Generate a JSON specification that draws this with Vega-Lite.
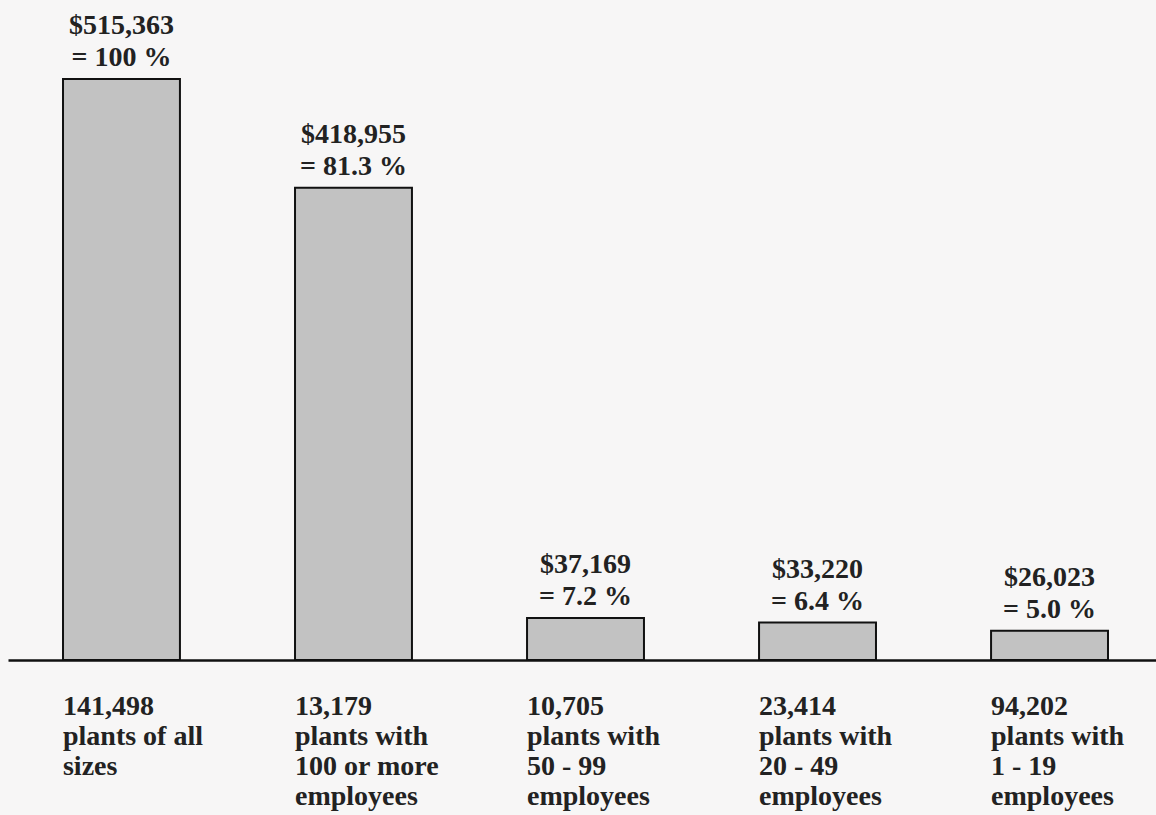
{
  "$schema": "https://vega.github.io/schema/vega-lite/v6.json",
  "width": 1148,
  "height": 660,
  "autosize": {"type": "none"},
  "padding": {"left": 8, "top": 0, "right": 0, "bottom": 155},
  "background": "#f7f6f6",
  "config": {"view": {"stroke": null}},
  "data": {
    "values": [
      {"group": "141,498|plants of all|sizes", "value": 515363, "amount": "$515,363", "pct": "= 100 %"},
      {"group": "13,179|plants with|100 or more|employees", "value": 418955, "amount": "$418,955", "pct": "= 81.3 %"},
      {"group": "10,705|plants with|50 - 99|employees", "value": 37169, "amount": "$37,169", "pct": "= 7.2 %"},
      {"group": "23,414|plants with|20 - 49|employees", "value": 33220, "amount": "$33,220", "pct": "= 6.4 %"},
      {"group": "94,202|plants with|1 - 19|employees", "value": 26023, "amount": "$26,023", "pct": "= 5.0 %"}
    ]
  },
  "encoding": {
    "x": {
      "field": "group",
      "type": "nominal",
      "sort": null,
      "scale": {"paddingInner": 0.496, "paddingOuter": 0.222, "align": 0.534},
      "axis": {
        "title": null,
        "orient": "bottom",
        "domain": true,
        "domainColor": "#111111",
        "domainWidth": 2.5,
        "ticks": false,
        "tickSize": 0,
        "grid": false,
        "labelAngle": 0,
        "labelAlign": "left",
        "labelBaseline": "alphabetic",
        "labelOffset": -58.5,
        "labelPadding": 54,
        "labelFont": "Liberation Serif",
        "labelFontWeight": "bold",
        "labelFontSize": 28,
        "labelLineHeight": 30,
        "labelColor": "#222222",
        "labelLimit": 0,
        "labelOverlap": false,
        "labelFlush": false,
        "labelBound": false,
        "labelExpr": "split(datum.value, '|')"
      }
    },
    "y": {
      "field": "value",
      "type": "quantitative",
      "scale": {"domain": [0, 585430], "nice": false, "zero": true},
      "axis": null
    }
  },
  "layer": [
    {
      "mark": {"type": "bar", "fill": "#c2c2c2", "stroke": "#111111", "strokeWidth": 2}
    },
    {
      "mark": {"type": "text", "font": "Liberation Serif", "fontWeight": "bold", "fontSize": 28, "baseline": "alphabetic", "align": "center", "dy": -45, "color": "#222222"},
      "encoding": {"text": {"field": "amount"}}
    },
    {
      "mark": {"type": "text", "font": "Liberation Serif", "fontWeight": "bold", "fontSize": 28, "baseline": "alphabetic", "align": "center", "dy": -13, "color": "#222222"},
      "encoding": {"text": {"field": "pct"}}
    }
  ]
}
